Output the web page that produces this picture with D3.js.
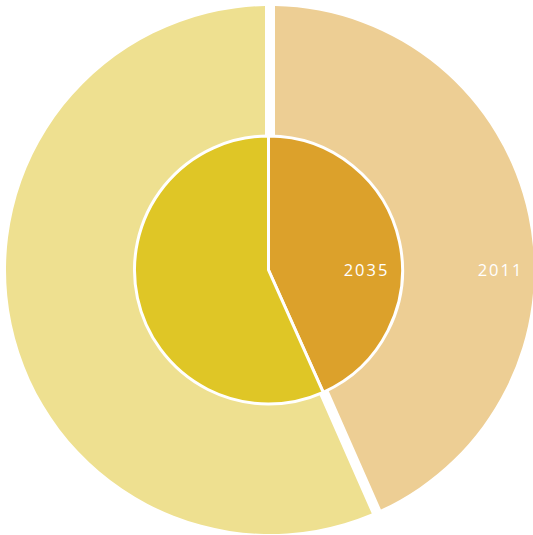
<!DOCTYPE html>
<html>
<head>
<meta charset="utf-8">
<script src="https://cdn.jsdelivr.net/npm/d3@7"></script>
<style>
  html, body { margin: 0; padding: 0; background: #ffffff; }
  svg { display: block; }
</style>
</head>
<body>
<svg id="chart" width="533" height="535"></svg>
<script>
// Data
const categories = ["Share", "Other"];
const outerYear = "2011";
const innerYear = "2035";
const outerValues = [43.4, 56.6];   // 2011 ring
const innerValues = [43.3, 56.7];   // 2035 pie
const outerColors = ["#EDCE94", "#EEE090"];
const innerColors = ["#DCA12B", "#DFC626"];

const svg = d3.select("#chart");
const cx = 268.5, cy = 270;
const rOuter = 264, rInner = 134;

const g = svg.append("g").attr("transform", `translate(${cx},${cy})`);

const pie = d3.pie().sort(null).value(d => d.value);

const outerData = pie(categories.map((c, i) => ({ cat: c, value: outerValues[i] })));
const innerData = pie(categories.map((c, i) => ({ cat: c, value: innerValues[i] })));

const outerArc = d3.arc()
  .innerRadius(rInner - 2)
  .outerRadius(rOuter)
  .padRadius(rOuter)
  .padAngle(10 / rOuter);

g.append("g")
  .attr("transform", "translate(1.5,0)")
  .selectAll("path")
  .data(outerData)
  .join("path")
  .attr("d", outerArc)
  .attr("fill", (d, i) => outerColors[i]);

const innerArc = d3.arc().innerRadius(0).outerRadius(rInner);

g.append("g").selectAll("path")
  .data(innerData)
  .join("path")
  .attr("d", innerArc)
  .attr("fill", (d, i) => innerColors[i])
  .attr("stroke", "#ffffff")
  .attr("stroke-width", 3)
  .attr("stroke-linejoin", "round");

// Labels (placed in the first slice, at 3 o'clock)
const labels = [
  { text: innerYear, r: 98 },
  { text: outerYear, r: 232 }
];
g.append("g").selectAll("text")
  .data(labels)
  .join("text")
  .attr("x", d => d3.pointRadial(Math.PI / 2, d.r)[0])
  .attr("y", d => d3.pointRadial(Math.PI / 2, d.r)[1])
  .attr("dy", "0.35em")
  .attr("text-anchor", "middle")
  .attr("fill", "#ffffff")
  .attr("font-family", "'Open Sans', 'DejaVu Sans', sans-serif")
  .attr("font-size", 16.5)
  .attr("font-weight", 400)
  .attr("letter-spacing", 2)
  .text(d => d.text);
</script>
</body>
</html>
